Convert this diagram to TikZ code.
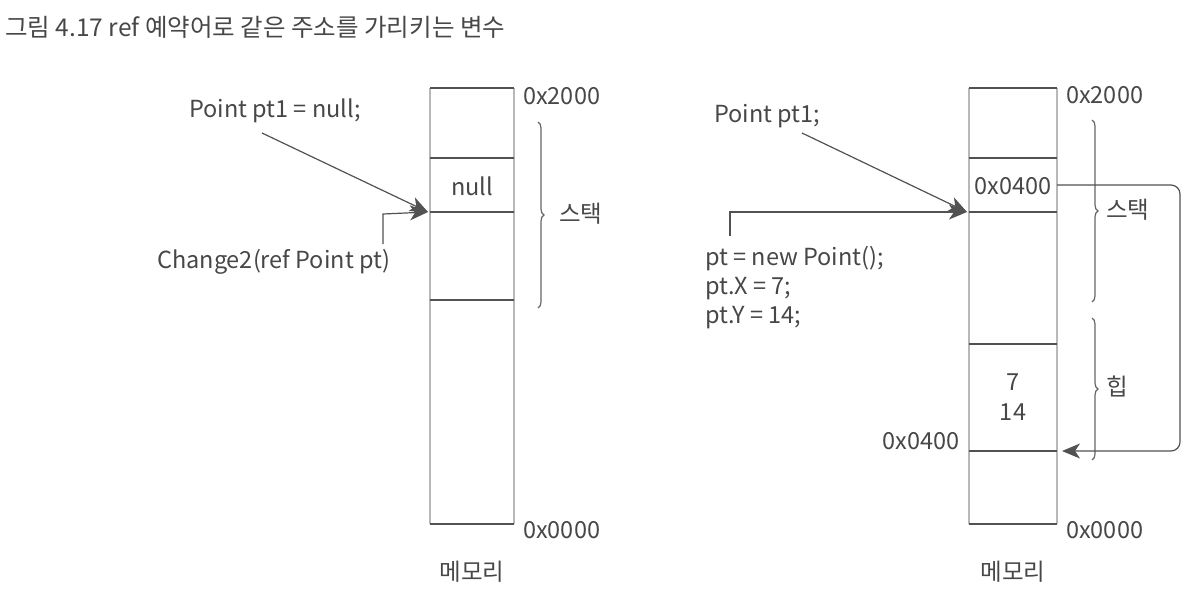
\documentclass[tikz,border=0pt]{standalone}
\usepackage{fontspec}
\setmainfont{Noto Sans CJK KR}
\usetikzlibrary{arrows.meta,decorations.pathreplacing}
\begin{document}
\begin{tikzpicture}[x=1pt,y=-1pt,
  txt/.style={font=\fontsize{23.5}{29}\selectfont, text=black!72, inner sep=0pt},
  hline/.style={draw=black!68, line width=1.5pt},
  vline/.style={draw=black!28, line width=1.5pt},
  arr/.style={draw=black!68, line width=1.2pt, -{Stealth[length=18pt,width=15pt,inset=5pt]}},
  brc/.style={draw=black!60, line width=1.2pt, decorate, decoration={brace, amplitude=6pt}}]
\useasboundingbox (0,0) rectangle (1192,606);

% title
\node[txt, anchor=west, font=\fontsize{24.5}{27}\selectfont] (title) at (5,27) {그림 4.17 ref 예약어로 같은 주소를 가리키는 변수};

% ---------- left memory ----------
\draw[vline] (430,88) -- (430,524);
\draw[vline] (514,88) -- (514,524);
\foreach \y in {88,158,212,300,524} \draw[hline] (430,\y) -- (514,\y);
\node[txt] (lnull) at (472,186) {null};
\node[txt, anchor=west] (ltop) at (523,96) {0x2000};
\node[txt, anchor=west] (lbot) at (523,530) {0x0000};
\node[txt] (lmem) at (472,572) {메모리};
\draw[brc] (538,122) -- (538,308);
\node[txt, anchor=west] (lstack) at (559,214) {스택};
\node[txt, anchor=west] (lpt1) at (189,111) {Point pt1 = null;};
\node[txt, anchor=west] (lchg) at (157,262) {Change2(ref Point pt)};
\coordinate (ltip) at (428,212);
\coordinate (lsrc) at (262,133);
\coordinate (lcs) at (383,244);
\draw[arr] (lsrc) -- (ltip);
\draw[arr] (lcs) -- (383,214) -- (ltip);

% ---------- right memory ----------
\draw[vline] (969,88) -- (969,524);
\draw[vline] (1057,88) -- (1057,524);
\foreach \y in {88,158,212,344,451,524} \draw[hline] (969,\y) -- (1057,\y);
\node[txt] (r0400) at (1013,186) {0x0400};
\node[txt] (r7) at (1013,382) {7};
\node[txt] (r14) at (1013,412) {14};
\node[txt, anchor=east] (rheapaddr) at (960,441) {0x0400};
\node[txt, anchor=west] (rtop) at (1066,95) {0x2000};
\node[txt, anchor=west] (rbot) at (1066,530) {0x0000};
\node[txt] (rmem) at (1013,572) {메모리};
\draw[brc] (1092,120) -- (1092,302);
\node[txt, anchor=west] (rstack) at (1106,210) {스택};
\draw[brc] (1092,318) -- (1092,460);
\node[txt, anchor=west] (rheap) at (1106,386) {힙};
\node[txt, anchor=west] (rpt1) at (714,116) {Point pt1;};
\node[txt, anchor=north west, align=left] (rcode) at (705,246) {pt = new Point();\\pt.X = 7;\\pt.Y = 14;};
\coordinate (rtip) at (967,212);
\coordinate (rsrc) at (802,133);
\coordinate (rcs) at (730,236);
\coordinate (rout) at (1057,185);
\coordinate (rin) at (1062,451);
\draw[arr] (rsrc) -- (rtip);
\draw[arr] (rcs) -- (730,212) -- (rtip);
\draw[arr, rounded corners=9pt] (rout) -- (1180,185) -- (1180,451) -- (rin);
\end{tikzpicture}
\end{document}
